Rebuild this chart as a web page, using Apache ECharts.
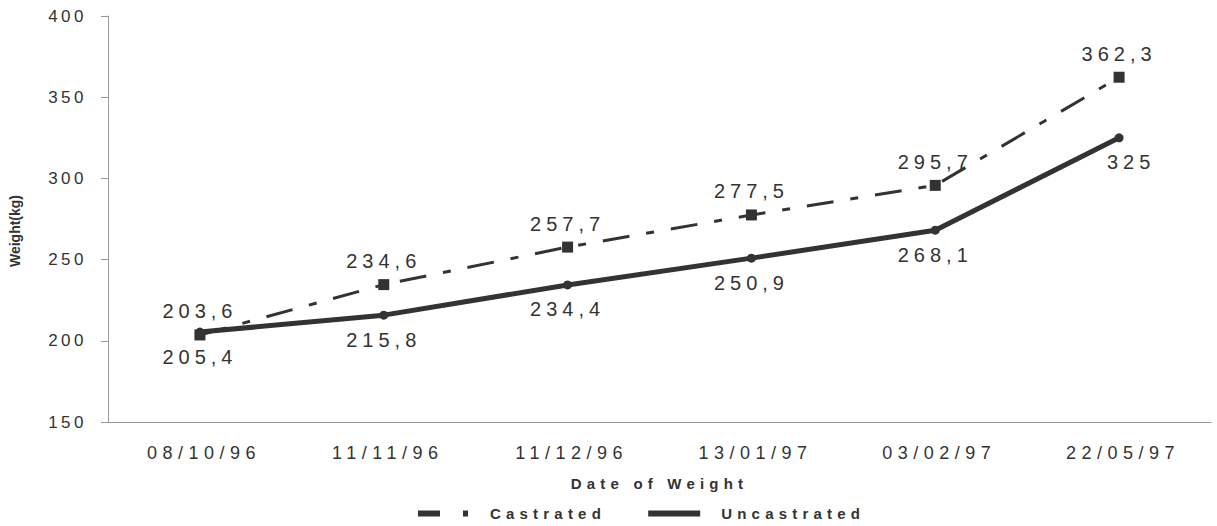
<!DOCTYPE html>
<html>
<head>
<meta charset="utf-8">
<script src="https://cdn.jsdelivr.net/npm/echarts@6/dist/echarts.min.js"></script>
<style>
  html, body { margin: 0; padding: 0; background: #fff; }
  #chart { width: 1217px; height: 526px; }
  /* the original print uses widely tracked text */
  #chart text { letter-spacing: 5.2px; }
  #chart text[style*="17px"] { letter-spacing: 3.5px; }
  #chart text[style*="18px"] { letter-spacing: 5.5px; }
  #chart text[style*="20px"] { letter-spacing: 5px; }
  #chart text[style*="Arial"] { letter-spacing: 0; }
</style>
</head>
<body>
<div id="chart"></div>
<script>
var dates = ['08/10/96', '11/11/96', '11/12/96', '13/01/97', '03/02/97', '22/05/97'];
var castrated = [203.6, 234.6, 257.7, 277.5, 295.7, 362.3];
var uncastrated = [205.4, 215.8, 234.4, 250.9, 268.1, 325];

var comma = function (p) { return String(p.value).replace('.', ','); };

// last uncastrated label sits a bit to the right in the original
var uncastratedData = uncastrated.map(function (v, i) {
    return i === uncastrated.length - 1 ? { value: v, label: { offset: [12, 0] } } : v;
});

var myChart = echarts.init(document.getElementById('chart'), null, { renderer: 'svg' });
var option = {
    animation: false,
    textStyle: { fontFamily: 'Liberation Sans' },
    grid: { left: 108, right: 6, top: 16, bottom: 104, outerBoundsMode: 'none', containLabel: false },
    legend: {
        bottom: 0,
        left: 413,
        itemGap: 89,
        itemWidth: 52,
        itemHeight: 6,
        textStyle: { fontSize: 15, fontWeight: 'bold', color: '#333', padding: [0, 0, 0, 16] },
        data: [
            { name: 'Castrated', icon: 'path://M0,0H22V6H0Z M45,0H50V6H45Z' },
            { name: 'Uncastrated', icon: 'rect' }
        ]
    },
    xAxis: {
        type: 'category',
        data: dates,
        name: 'Date of Weight',
        nameLocation: 'middle',
        nameGap: 54,
        nameTextStyle: { fontSize: 15, fontWeight: 'bold', color: '#333' },
        axisLine: { lineStyle: { color: '#999' } },
        axisTick: { lineStyle: { color: '#999' }, length: 5 },
        axisLabel: { fontSize: 18, color: '#333', margin: 22, padding: [0, 0, 0, 8] }
    },
    yAxis: {
        type: 'value',
        min: 150,
        max: 400,
        interval: 50,
        name: 'Weight(kg)',
        nameLocation: 'middle',
        nameGap: 86,
        nameTextStyle: { fontFamily: 'Arial', fontSize: 14, fontWeight: 'bold', color: '#333', padding: [0, 24, 0, 0] },
        axisLine: { show: true, lineStyle: { color: '#999' } },
        axisTick: { show: true, lineStyle: { color: '#999' }, length: 7 },
        splitLine: { show: false },
        axisLabel: { fontSize: 17, color: '#333', margin: 21 }
    },
    series: [
        {
            name: 'Castrated',
            type: 'line',
            data: castrated,
            symbol: 'rect',
            symbolSize: 11,
            z: 3,
            itemStyle: { color: '#333' },
            lineStyle: { color: '#333', width: 3, type: [27, 17, 8, 17] },
            label: { show: true, position: 'top', distance: 8, fontSize: 20, color: '#333', formatter: comma }
        },
        {
            name: 'Uncastrated',
            type: 'line',
            data: uncastratedData,
            symbol: 'circle',
            symbolSize: 9,
            z: 2,
            itemStyle: { color: '#333' },
            lineStyle: { color: '#333', width: 5 },
            label: { show: true, position: 'bottom', distance: 10, fontSize: 20, color: '#333', formatter: comma }
        }
    ]
};
myChart.setOption(option);
</script>
</body>
</html>
